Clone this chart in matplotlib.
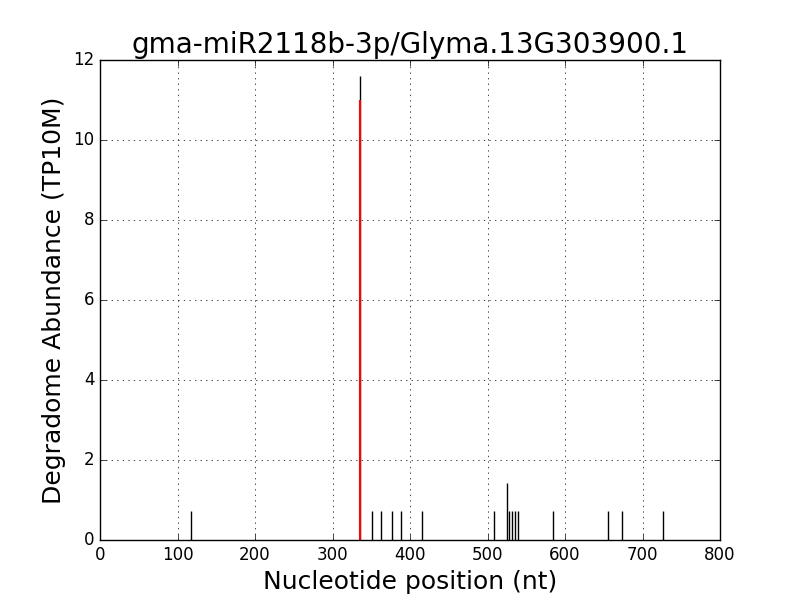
import matplotlib
matplotlib.use("Agg")
import matplotlib.pyplot as plt

positions = [118, 336, 351, 362, 377, 388, 416, 509, 525, 528, 532, 536, 539, 584, 656, 674, 727]
abundance = [0.714, 11.6, 0.714, 0.714, 0.714, 0.714, 0.714, 0.714, 1.43, 0.714, 0.714, 0.714, 0.714, 0.714, 0.714, 0.714, 0.714]
target_pos = [336]
target_val = [11.0]

plt.style.use('classic')
fig = plt.figure(figsize=(8, 6), dpi=100, facecolor='white')
ax = fig.add_axes([0.125, 0.1, 0.775, 0.8])
ax.vlines(positions, 0, abundance, colors='black', linewidth=1)
ax.vlines(target_pos, 0, target_val, colors='red', linewidth=1.5)
ax.set_xlim(0, 800)
ax.set_ylim(0, 12)
ax.grid(True)
ax.set_title('gma-miR2118b-3p/Glyma.13G303900.1', fontsize=20)
ax.set_xlabel('Nucleotide position (nt)', fontsize=18)
ax.set_ylabel('Degradome Abundance (TP10M)', fontsize=18)
fig.savefig('out.png', dpi=100, facecolor='white')
